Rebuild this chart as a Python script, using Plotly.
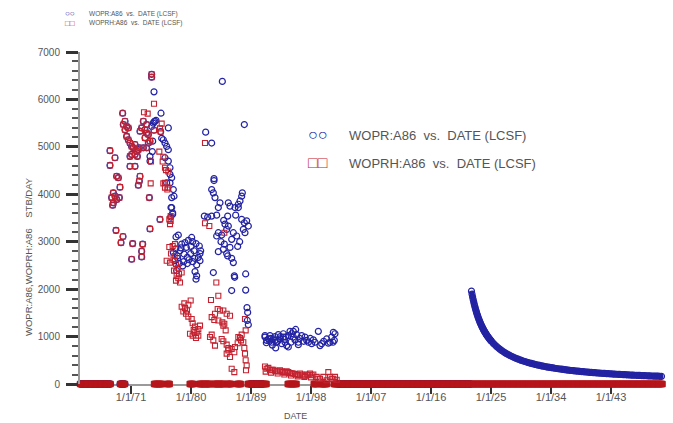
import numpy as np
import plotly.graph_objects as go

# ------------------------------------------------------------------
# Well A86 oil rate, STB/DAY, dates as decimal years
# ------------------------------------------------------------------

# Early production where simulated (WOPR) and observed (WOPRH) coincide
matched_points = [
    (1967.85, 4920), (1968.6, 4770), (1967.85, 4610), (1968.85, 4380), (1969.1, 4350),
    (1969.35, 4150), (1968.35, 4030), (1968.1, 3930), (1968.6, 3960), (1968.85, 3890),
    (1968.35, 3820), (1968.25, 3770), (1969.25, 3930),
    (1968.75, 3240), (1969.5, 2980), (1969.8, 3110), (1971.1, 2630), (1971.25, 2960),
    (1972.75, 2950), (1972.6, 2800), (1972.6, 2680), (1973.85, 3270), (1975.35, 3470),
    (1973.75, 3930),
    (1969.75, 5710), (1970.1, 5540), (1970.35, 5430), (1969.85, 5470), (1970.6, 5400),
    (1970.1, 5360), (1970.35, 5220), (1970.6, 5150), (1970.85, 5080), (1971.1, 5010),
    (1971.35, 4980), (1971.6, 5050), (1971.85, 4910), (1972.1, 4940), (1971.6, 4840),
    (1971.95, 4800), (1971.1, 4840), (1970.85, 4800), (1970.85, 4590), (1971.6, 4590),
    (1972.35, 4380), (1972.25, 4280), (1972.1, 4190),
    (1972.85, 5540), (1973.35, 5470), (1972.6, 5400), (1973.1, 5360), (1972.35, 5330),
    (1973.35, 5290), (1973.6, 5260), (1973.1, 5190), (1972.25, 4980), (1972.85, 4980),
    (1973.35, 4980), (1973.6, 5080), (1973.85, 5120),
    (1974.1, 6530), (1974.1, 6470), (1974.45, 5350), (1975.45, 5320),
]

# Simulated rate only (WOPR)
wopr_points = [
    # 1974-1977
    (1974.45, 6160), (1975.5, 5710), (1974.45, 5530), (1974.75, 5560), (1976.6, 5400),
    (1975.85, 5150), (1976.1, 5080), (1976.35, 5010), (1976.6, 4940), (1976.1, 4770),
    (1976.6, 4700), (1976.85, 4560), (1973.85, 4700), (1973.85, 4800), (1974.25, 5120),
    (1974.1, 5430), (1974.6, 5540), (1974.35, 5500), (1974.2, 4900), (1975.6, 5180),
    (1976.85, 4420), (1977.1, 4350), (1976.85, 4240), (1977.35, 4100), (1977.45, 3960),
    (1977.1, 3930), (1977.1, 3720), (1977.25, 3580), (1977.0, 3720), (1977.25, 3610),
    (1976.95, 3520), (1976.35, 4240),
    # 1977-1981
    (1978.1, 3140), (1977.75, 3100), (1978.6, 2950), (1979.1, 2980), (1979.6, 3030),
    (1980.25, 3000), (1980.75, 2960), (1981.25, 2910), (1980.1, 3090), (1977.35, 2770),
    (1977.95, 2700), (1978.35, 2810), (1978.95, 2740), (1979.45, 2670), (1979.95, 2750),
    (1980.45, 2810), (1981.1, 2670), (1981.35, 2750), (1977.6, 2600), (1978.25, 2540),
    (1978.75, 2490), (1979.45, 2540), (1980.25, 2580), (1980.85, 2510), (1981.35, 2600),
    (1980.6, 2370), (1980.85, 2280), (1980.75, 2210), (1977.85, 2390), (1981.45, 2810),
    (1978.5, 2870), (1979.3, 2880), (1980.0, 2900), (1978.0, 2650), (1979.7, 2620),
    (1980.55, 2650), (1978.9, 2580), (1977.7, 2850),
    # 1981-1989
    (1984.7, 6380), (1982.2, 5310), (1988.0, 5470), (1983.1, 5080), (1983.45, 4330),
    (1983.45, 4290), (1983.1, 4100), (1983.35, 4030), (1983.6, 3930), (1987.7, 4030),
    (1987.6, 3960), (1987.35, 3860), (1987.1, 3790), (1986.6, 3720), (1985.6, 3820),
    (1984.1, 3720), (1982.0, 3540), (1982.5, 3520), (1983.1, 3540), (1983.85, 3560),
    (1985.5, 3540), (1986.7, 3560), (1987.6, 3470), (1988.0, 3400), (1985.1, 3370),
    (1985.6, 3330), (1985.35, 3260), (1984.1, 3190), (1984.6, 3140), (1983.85, 3120),
    (1986.35, 3190), (1986.85, 3120), (1986.1, 3050), (1987.85, 3260), (1988.1, 3190),
    (1984.1, 2790), (1984.85, 2840), (1985.35, 2750), (1985.85, 2880), (1985.5, 2700),
    (1986.1, 2650), (1986.35, 2560), (1983.35, 2350), (1986.5, 2280), (1986.55, 2250),
    (1988.2, 2320), (1986.1, 1970), (1988.2, 1980), (1988.4, 1610), (1988.5, 1510),
    (1988.45, 1340), (1988.6, 1250), (1984.35, 3820), (1985.85, 3750), (1987.1, 3720),
    (1988.35, 3440), (1988.6, 3330), (1984.5, 3000), (1985.0, 2950), (1987.3, 3000),
    (1987.0, 2900), (1984.9, 3450),
    # 1991-2002
    (1991.1, 990), (1991.35, 920), (1991.6, 950), (1992.1, 880), (1992.35, 950),
    (1992.6, 1000), (1992.85, 880), (1993.1, 1040), (1993.35, 950), (1993.6, 850),
    (1993.85, 990), (1994.1, 880), (1994.35, 810), (1994.6, 1020), (1994.85, 1110),
    (1995.1, 1060), (1995.35, 990), (1995.6, 930), (1995.85, 1040), (1996.1, 880),
    (1996.6, 1020), (1997.1, 990), (1997.35, 920), (1997.6, 880), (1998.35, 930),
    (1998.6, 880), (1999.1, 1110), (1999.6, 850), (2000.35, 950), (2000.85, 880),
    (2001.1, 990), (2001.35, 1090), (2001.5, 920), (2001.6, 1060), (1992.7, 760),
    (1994.6, 780), (1996.1, 830), (1991.1, 1020), (1991.85, 1020), (1992.6, 920),
    (1993.85, 1060), (1995.35, 1110), (1999.35, 810), (1991.3, 870), (1991.8, 900),
    (1992.2, 820), (1993.0, 900), (1993.4, 1000), (1994.0, 940), (1996.3, 960),
    (1996.9, 900), (1997.9, 960), (1998.1, 850), (1999.9, 900), (2000.6, 860),
    (2001.3, 880), (1992.0, 960), (1994.2, 990), (1995.0, 880), (1995.7, 1150),
]

# Observed rate only (WOPRH)
woprh_points = [
    # 1973-1977
    (1972.95, 5730), (1973.5, 5700), (1974.45, 5910), (1975.6, 5490), (1974.0, 4690),
    (1973.95, 4230), (1976.1, 4240), (1976.6, 4140), (1976.45, 4100), (1976.95, 3540),
    (1976.95, 3440), (1976.85, 3370), (1975.25, 4900), (1975.85, 4790), (1975.75, 4690),
    (1976.1, 4560), (1976.25, 4510), (1976.6, 4480), (1975.85, 4230), (1976.1, 4140),
    (1975.35, 5390), (1976.75, 3470),
    # 1977-1979
    (1977.25, 2910), (1976.75, 2890), (1977.6, 2950), (1976.35, 2600), (1976.85, 2560),
    (1977.35, 2610), (1977.75, 2530), (1977.45, 2390), (1977.85, 2280), (1978.1, 2230),
    (1978.35, 2140), (1977.75, 2180), (1978.6, 2350), (1977.0, 2750), (1977.55, 2700),
    (1978.0, 2450), (1978.2, 2320),
    # 1979-1981
    (1978.6, 1630), (1979.1, 1600), (1979.6, 1670), (1979.95, 1760), (1978.85, 1530),
    (1979.25, 1480), (1979.6, 1420), (1980.1, 1370), (1980.25, 1280), (1980.6, 1210),
    (1981.1, 1160), (1981.35, 1230), (1980.85, 1090), (1979.85, 1060), (1980.25, 1020),
    (1980.75, 970), (1981.1, 1020), (1980.5, 1090), (1979.0, 1700), (1979.4, 1550),
    (1980.4, 1140),
    # 1981-1989
    (1982.1, 5080), (1982.1, 3390), (1982.75, 3330), (1985.0, 3190), (1983.8, 2140),
    (1983.0, 1770), (1984.1, 1860), (1984.0, 1580), (1984.35, 1550), (1983.6, 1480),
    (1983.1, 1410), (1983.5, 1350), (1984.1, 1340), (1984.7, 1300), (1985.0, 1270),
    (1983.1, 1040), (1982.85, 990), (1983.35, 920), (1983.6, 810), (1984.6, 950),
    (1984.85, 900), (1985.35, 830), (1985.6, 760), (1986.1, 740), (1986.6, 780),
    (1987.0, 860), (1987.35, 970), (1987.6, 1040), (1987.1, 990), (1987.5, 920),
    (1985.35, 640), (1985.85, 570), (1986.5, 670), (1985.6, 710), (1986.1, 320),
    (1986.5, 250), (1987.85, 880), (1988.0, 760), (1988.1, 640), (1988.2, 500),
    (1988.35, 390), (1988.25, 290), (1988.1, 1370), (1988.2, 1130), (1984.85, 1550),
    (1985.35, 1480), (1985.85, 1440), (1984.85, 1230), (1985.2, 1130),
    # 1991-2002
    (1991.1, 370), (1991.35, 320), (1991.6, 340), (1991.85, 290), (1992.1, 300),
    (1992.35, 300), (1992.6, 280), (1992.85, 270), (1993.1, 265), (1993.35, 290),
    (1993.6, 270), (1993.85, 250), (1994.1, 240), (1994.35, 270), (1994.6, 250),
    (1994.85, 230), (1995.1, 225), (1995.35, 220), (1995.6, 210), (1995.85, 200),
    (1996.1, 190), (1996.35, 220), (1996.6, 200), (1996.85, 180), (1997.1, 175),
    (1997.35, 200), (1997.6, 195), (1997.85, 220), (1998.1, 185), (1998.35, 200),
    (1998.85, 150), (1999.35, 110), (1999.85, 150), (2000.6, 250), (2000.85, 150),
    (2001.1, 110), (2001.35, 110), (2001.6, 150), (2001.85, 90), (2000.35, 80),
    (1999.1, 110), (1991.2, 260), (1992.0, 240), (1993.0, 220), (1994.0, 200),
    (1995.0, 180), (1996.0, 160), (1997.0, 150), (1998.0, 140),
]

# Shut-in periods (rate = 0), start/end decimal years
woprh_shut_in = [
    (1963.35, 1968.0), (1969.35, 1970.1), (1974.45, 1975.7), (1976.4, 1976.85),
    (1979.8, 1980.4), (1981.2, 1983.0), (1983.4, 1985.0), (1985.4, 1986.1),
    (1986.9, 1987.5), (1988.5, 1991.4), (1994.5, 1995.9), (1998.4, 1998.9),
    (1999.4, 2000.4), (2001.4, 2050.8),
]
wopr_shut_in = [
    (1963.35, 1968.0), (1969.35, 1970.1), (1988.8, 1990.8), (2002.0, 2022.0),
]

# Forecast decline of WOPR: monthly from 2022.07, then quarterly from 2025.32
forecast_start_monthly = 2022.07
forecast_monthly = [
    1960, 1898, 1840, 1785, 1733, 1685, 1639, 1595, 1554, 1515, 1477, 1442, 1408,
    1376, 1345, 1315, 1287, 1260, 1234, 1209, 1186, 1163, 1140, 1119, 1099, 1079,
    1060, 1041, 1024, 1007, 990, 974, 958, 943, 929, 915, 901,
]
forecast_start_quarterly = 2025.32
forecast_quarterly = [
    862, 826, 794, 763, 735, 709, 685, 662, 641, 621,
    602, 585, 568, 552, 538, 524, 510, 497, 485, 474,
    463, 452, 442, 433, 424, 415, 406, 398, 391, 383,
    376, 369, 362, 356, 350, 344, 338, 332, 327, 322,
    316, 312, 307, 302, 298, 293, 289, 285, 281, 277,
    273, 270, 266, 262, 259, 256, 253, 249, 246, 243,
    240, 238, 235, 232, 229, 227, 224, 222, 219, 217,
    215, 212, 210, 208, 206, 204, 202, 200, 198, 196,
    194, 192, 190, 188, 187, 185, 183, 181, 180, 178,
    177, 175, 174, 172, 171, 169, 168, 166, 165, 164,
    162, 161, 160,
]

tick_years = [1971, 1980, 1989, 1998, 2007, 2016, 2025, 2034, 2043]
tick_labels = ["1/1/71", "1/1/80", "1/1/89", "1/1/98", "1/1/07",
               "1/1/16", "1/1/25", "1/1/34", "1/1/43"]

# ------------------------------------------------------------------
BLUE = "#2323a3"
RED = "#c42230"
BAND_RED = "#b5161c"
TEXT = "#555555"
FONT = "Liberation Sans, Arial, sans-serif"


def monthly_zeros(periods):
    xs = []
    for start, end in periods:
        xs.extend(np.arange(start, end + 1e-9, 1.0 / 12.0))
    return np.array(xs), np.zeros(len(xs))


def split(points):
    return [p[0] for p in points], [p[1] for p in points]


m_x, m_y = split(matched_points)
b_x, b_y = split(wopr_points)
r_x, r_y = split(woprh_points)
bz_x, bz_y = monthly_zeros(wopr_shut_in)
rz_x, rz_y = monthly_zeros(woprh_shut_in)

fc_x = list(forecast_start_monthly + np.arange(len(forecast_monthly)) / 12.0) + \
       list(forecast_start_quarterly + np.arange(len(forecast_quarterly)) * 0.25)
fc_y = forecast_monthly + forecast_quarterly

wopr_x = list(bz_x) + m_x + b_x
wopr_y = list(bz_y) + m_y + b_y

fig = go.Figure()

circle = dict(symbol="circle-open", size=6, color=BLUE, line=dict(width=1.2, color=BLUE))
square = dict(symbol="square-open", size=5, color=RED, line=dict(width=1.1, color=RED))

fig.add_trace(go.Scatter(x=wopr_x, y=wopr_y, mode="markers", marker=circle,
                         cliponaxis=False, name="WOPR:A86"))
# forecast: densely sampled, drawn as a continuous band of circles
fig.add_trace(go.Scatter(x=fc_x, y=fc_y, mode="lines+markers", marker=circle,
                         line=dict(color=BLUE, width=4.5, shape="spline"),
                         cliponaxis=False, name="WOPR:A86 forecast"))
fig.add_trace(go.Scatter(x=list(rz_x), y=list(rz_y), mode="markers",
                         marker=dict(symbol="square", size=5.5, color=BAND_RED,
                                     line=dict(width=0.8, color=BAND_RED)),
                         cliponaxis=False, name="WOPRH:A86 shut-in"))
fig.add_trace(go.Scatter(x=m_x + r_x, y=m_y + r_y, mode="markers", marker=square,
                         cliponaxis=False, name="WOPRH:A86"))

PLOT_L, PLOT_R, PLOT_T, PLOT_B = 80, 663, 52, 384


def px(x):
    return (x - PLOT_L) / (PLOT_R - PLOT_L)


def py(y):
    return (PLOT_B - y) / (PLOT_B - PLOT_T)


def label(text, x, y, size, color=TEXT, xanchor="left", angle=0):
    return dict(text=text, x=px(x), y=py(y), xref="paper", yref="paper",
                xanchor=xanchor, yanchor="middle", showarrow=False,
                textangle=angle, font=dict(family=FONT, size=size, color=color))


NB = "\u00a0"
annotations = [
    # small legend at top left
    label("\u25cb\u25cb", 63, 14, 8, BLUE),
    label(f"WOPR:A86{NB}{NB}vs.{NB}{NB}DATE{NB}(LCSF)", 87, 14, 6.5),
    label("\u25a1\u25a1", 63, 23, 8, RED),
    label(f"WOPRH:A86{NB}{NB}vs.{NB}{NB}DATE{NB}(LCSF)", 87, 23, 6.5),
    # large legend in the plot
    label("\u25cb\u25cb", 306, 134, 16, BLUE),
    label(f"WOPR:A86{NB}{NB}vs.{NB}{NB}DATE{NB}(LCSF)", 347, 135, 13),
    label("\u25a1\u25a1", 306, 162, 16, RED),
    label(f"WOPRH:A86{NB}{NB}vs.{NB}{NB}DATE{NB}(LCSF)", 347, 163, 13),
    # axis titles
    label(f"WOPR:A86,WOPRH:A86{NB}{NB}{NB}{NB}STB/DAY", 28, 257, 9.5, xanchor="center", angle=-90),
    label("DATE", 295, 416, 9, xanchor="center"),
]

fig.update_layout(
    width=673, height=423,
    margin=dict(l=PLOT_L, r=673 - PLOT_R, t=PLOT_T, b=423 - PLOT_B),
    paper_bgcolor="white", plot_bgcolor="white",
    showlegend=False,
    font=dict(family=FONT, size=10, color=TEXT),
    annotations=annotations,
    xaxis=dict(
        range=[1963.35, 2050.8], tickmode="array", tickvals=tick_years,
        ticktext=tick_labels, ticks="outside", ticklen=8, tickwidth=2,
        tickcolor="#333333", showline=True, linecolor="#9a9a9a", linewidth=2,
        showgrid=False, zeroline=False, layer="below traces",
        ticklabelstandoff=-6,
        tickfont=dict(family=FONT, size=11, color=TEXT),
    ),
    yaxis=dict(
        range=[0, 7000], tickmode="linear", tick0=0, dtick=1000,
        ticks="outside", ticklen=12, tickwidth=2.5, tickcolor="#333333",
        minor=dict(tickmode="linear", tick0=0, dtick=200, ticks="outside",
                   ticklen=6, tickwidth=1.5, tickcolor="#555555", showgrid=False),
        showline=True, linecolor="#9a9a9a", linewidth=2,
        showgrid=False, zeroline=False, ticklabelstandoff=4,
        tickfont=dict(family=FONT, size=10, color=TEXT),
    ),
)

fig.write_html("out.html")
